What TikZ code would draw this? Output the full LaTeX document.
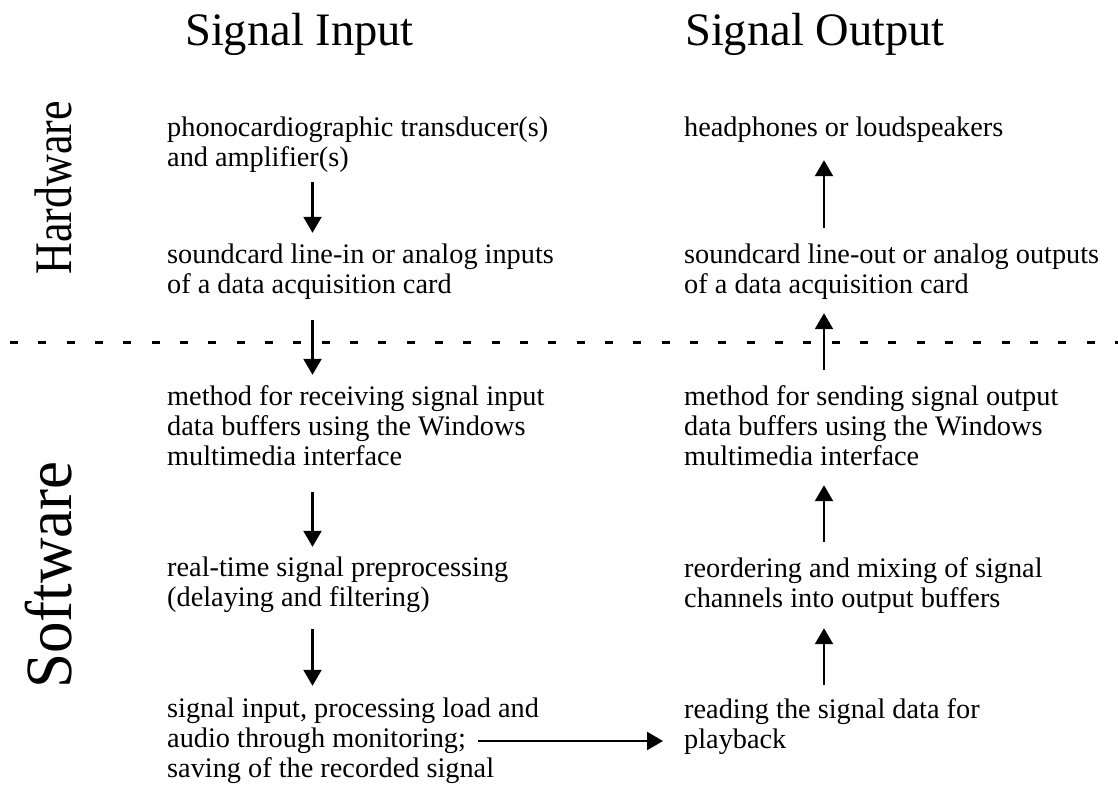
\documentclass[tikz,border=0pt]{standalone}
\usepackage{fontspec}
\setmainfont{Liberation Serif}
\usetikzlibrary{arrows.meta}
\newcommand{\mlines}[1]{\begin{tabular}[t]{@{}l@{}}#1\end{tabular}}
\begin{document}
\begin{tikzpicture}[x=1pt,y=-1pt,
  body/.style={anchor=base west, inner sep=0pt, font=\fontsize{28.3}{30}\selectfont},
  head/.style={anchor=base west, inner sep=0pt, font=\fontsize{46.5}{50}\selectfont},
  side/.style={anchor=base, inner sep=0pt, rotate=90},
  arr/.style={line width=2.3pt, -{Triangle[length=16pt,width=18pt]}},
  sep/.style={line width=3.5pt, dash pattern=on 8pt off 20.33pt}]
\useasboundingbox (0,0) rectangle (1118,789);
% headings
\node[head] (hin) at (185,46) {Signal Input};
\node[head] (hout) at (685,46) {Signal Output};
% side labels
\node[side, font=\fontsize{44}{48}\selectfont] (hw) at (71,188) {\scalebox{1}[1.2]{Hardware}};
\node[side, font=\fontsize{60}{64}\selectfont] (sw) at (71,575) {\scalebox{1.05}[1.1]{Software}};
% separator
\coordinate (dl) at (10,342.5);
\coordinate (dr) at (1118,342.5);
\draw[sep] (dl) -- (dr);
% left column
\node[body] (A) at (167,136) {\mlines{phonocardiographic transducer(s)\\and amplifier(s)}};
\node[body] (B) at (167,263) {\mlines{soundcard line-in or analog inputs\\of a data acquisition card}};
\node[body] (C) at (167,405) {\mlines{method for receiving signal input\\data buffers using the Windows\\multimedia interface}};
\node[body] (D) at (167,576) {\mlines{real-time signal preprocessing\\(delaying and filtering)}};
\node[body] (E) at (167,717) {\mlines{signal input, processing load and\\audio through monitoring;\\saving of the recorded signal}};
% right column
\node[body] (F) at (684,136) {\mlines{headphones or loudspeakers}};
\node[body] (G) at (684,263) {\mlines{soundcard line-out or analog outputs\\of a data acquisition card}};
\node[body] (H) at (684,405) {\mlines{method for sending signal output\\data buffers using the Windows\\multimedia interface}};
\node[body] (I) at (684,577) {\mlines{reordering and mixing of signal\\channels into output buffers}};
\node[body] (J) at (684,718) {\mlines{reading the signal data for\\playback}};
% arrow columns
\coordinate (lx) at (312.5,0);
\coordinate (rx) at (824,0);
\draw[arr, shorten <=7pt, shorten >=9pt] (A.south -| lx) -- (B.north -| lx);
\draw[arr, shorten <=18pt, shorten >=9pt] (B.south -| lx) -- (C.north -| lx);
\draw[arr, shorten <=18pt, shorten >=8pt] (C.south -| lx) -- (D.north -| lx);
\draw[arr, shorten <=14pt, shorten >=10pt] (D.south -| lx) -- (E.north -| lx);
\draw[arr, shorten <=14pt, shorten >=15pt] (G.north -| rx) -- (F.south -| rx);
\draw[arr, shorten <=14pt, shorten >=11pt] (H.north -| rx) -- (G.south -| rx);
\draw[arr, shorten <=14pt, shorten >=11pt] (I.north -| rx) -- (H.south -| rx);
\draw[arr, shorten <=12pt, shorten >=12pt] (J.north -| rx) -- (I.south -| rx);
\coordinate (es) at (478,741);
\draw[arr, shorten >=21pt] (es) -- (J.west |- es);
\end{tikzpicture}
\end{document}
